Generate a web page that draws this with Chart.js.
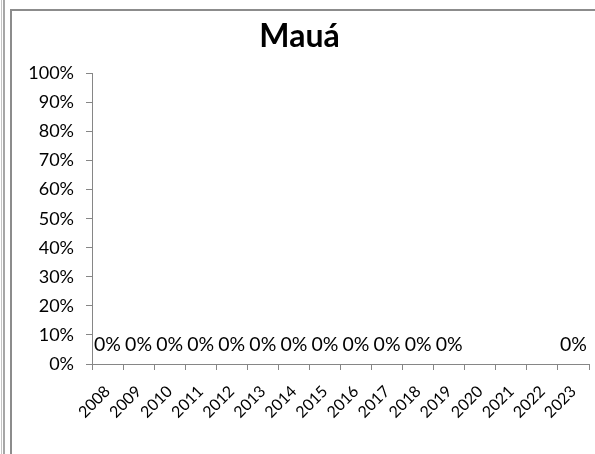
<!DOCTYPE html>
<html>
<head>
<meta charset="utf-8">
<script src="https://cdn.jsdelivr.net/npm/chart.js@4"></script>
<style>
  html, body { margin: 0; padding: 0; background: #fff; overflow: hidden; }
  body { width: 595px; height: 454px; position: relative; }
  .edge1 { position: absolute; left: 1px; top: 0; width: 1px; height: 454px; background: #c4c4c4; }
  .edge2 { position: absolute; left: 3px; top: 0; width: 2px; height: 454px; background: #a6a6a6; }
  .box { position: absolute; left: 10px; top: 9px; width: 640px; height: 480px; border: 2px solid #8c8c8c; box-sizing: border-box; }
  .wrap { position: absolute; left: 10px; top: 0; width: 606px; height: 454px; }
</style>
</head>
<body>
<div class="edge1"></div>
<div class="edge2"></div>
<div class="box"></div>
<div class="wrap"><canvas id="chart"></canvas></div>
<script>
  const chartTitle = 'Mauá';
  const years = ['2008', '2009', '2010', '2011', '2012', '2013', '2014', '2015',
                 '2016', '2017', '2018', '2019', '2020', '2021', '2022', '2023'];
  const shares = [0, 0, 0, 0, 0, 0, 0, 0, 0, 0, 0, 0, null, null, null, 0];
  const yTicks = [0, 0.1, 0.2, 0.3, 0.4, 0.5, 0.6, 0.7, 0.8, 0.9, 1];

  const axisGrey = '#868686';
  const fontFamily = 'Lato, "Open Sans", sans-serif';

  // draws the "0%" value labels above each point
  const valueLabels = {
    id: 'valueLabels',
    afterDatasetsDraw(chart) {
      const ctx = chart.ctx;
      const x = chart.scales.x;
      const y = chart.scales.y;
      ctx.save();
      ctx.fillStyle = '#000';
      ctx.font = '19.5px ' + fontFamily;
      ctx.textAlign = 'center';
      ctx.textBaseline = 'middle';
      shares.forEach((v, i) => {
        if (v === null) return;
        ctx.fillText(Math.round(v * 100) + '%', x.getPixelForValue(i), y.getPixelForValue(v) - 19);
      });
      ctx.restore();
    }
  };

  new Chart(document.getElementById('chart'), {
    type: 'bar',
    data: {
      labels: years,
      datasets: [{
        data: shares,
        backgroundColor: '#4f81bd',
        borderWidth: 0
      }]
    },
    options: {
      responsive: true,
      maintainAspectRatio: false,
      animation: false,
      layout: { padding: { left: 0, right: 27, top: 0, bottom: 0 } },
      plugins: {
        legend: { display: false },
        tooltip: { enabled: false },
        title: {
          display: true,
          text: chartTitle,
          color: '#000',
          font: { family: fontFamily, size: 32, weight: 'bold' },
          padding: { top: 17, bottom: 18 }
        }
      },
      scales: {
        x: {
          offset: true,
          grid: { display: true, offset: true, drawOnChartArea: false, tickLength: 6, color: axisGrey },
          border: { color: axisGrey, width: 1 },
          ticks: {
            color: '#000',
            font: { family: fontFamily, size: 16 },
            minRotation: 45,
            maxRotation: 45,
            autoSkip: false,
            padding: 12
          },
          afterFit(scale) { scale.height = 90; }
        },
        y: {
          min: 0,
          max: 1,
          afterBuildTicks(scale) { scale.ticks = yTicks.map(v => ({ value: v })); },
          grid: { display: true, drawOnChartArea: false, tickLength: 6, color: axisGrey },
          border: { color: axisGrey, width: 1 },
          ticks: {
            color: '#000',
            font: { family: fontFamily, size: 18 },
            padding: 12,
            callback: v => Math.round(v * 100) + '%'
          },
          afterFit(scale) { scale.width = 82; }
        }
      }
    },
    plugins: [valueLabels]
  });
</script>
</body>
</html>
